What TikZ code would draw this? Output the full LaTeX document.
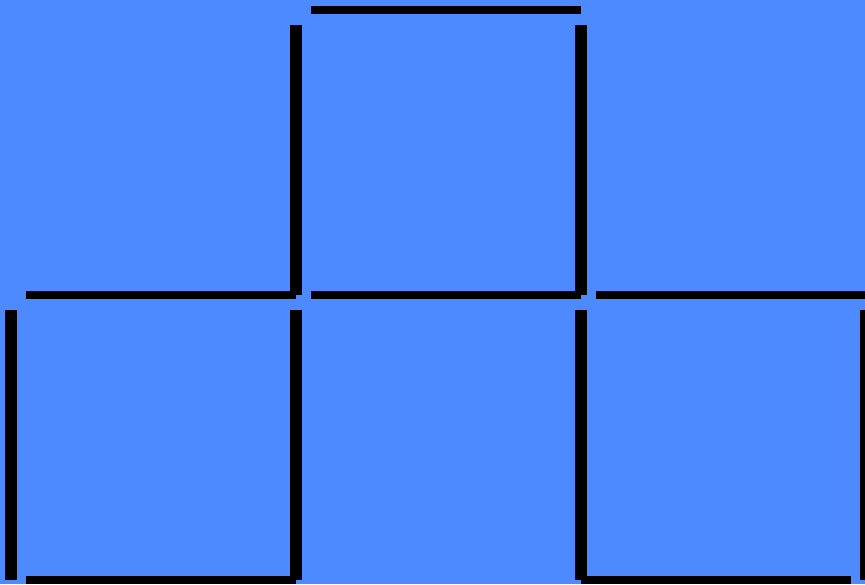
\documentclass[tikz,border=0pt]{standalone}
\definecolor{bg}{RGB}{77,137,255}
\begin{document}
\begin{tikzpicture}[x=1pt,y=-1pt,stick/.style={fill=black}]
\useasboundingbox (0,0) rectangle (865,584);
\clip (0,0) rectangle (865,584);
\fill[bg] (0,0) rectangle (865,584);
% horizontal sticks
\fill[stick] (311,6) rectangle (581,14);
\fill[stick] (26,291) rectangle (296,299);
\fill[stick] (311,291) rectangle (581,299);
\fill[stick] (596,291) rectangle (866,299);
\fill[stick] (26,576) rectangle (296,584);
\fill[stick] (581,576) rectangle (851,584);
% vertical sticks
\fill[stick] (290,25) rectangle (302,295);
\fill[stick] (575,25) rectangle (587,295);
\fill[stick] (5,310) rectangle (17,580);
\fill[stick] (290,310) rectangle (302,580);
\fill[stick] (575,310) rectangle (587,580);
\fill[stick] (860,310) rectangle (872,580);
\end{tikzpicture}
\end{document}
